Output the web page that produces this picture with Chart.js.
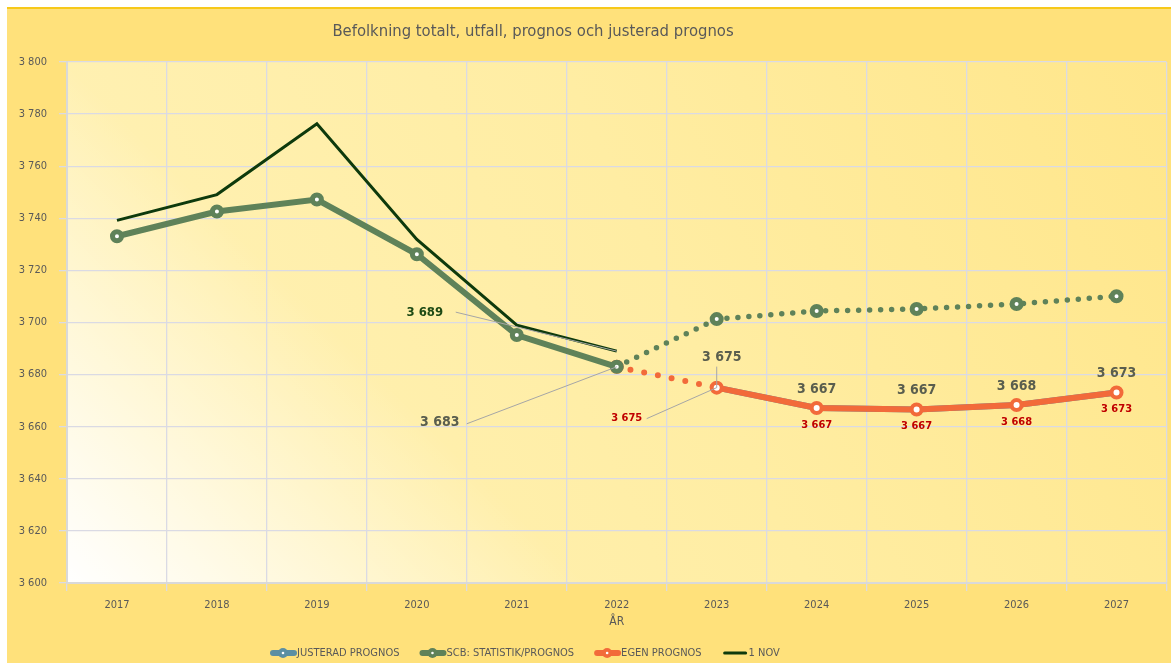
<!DOCTYPE html>
<html lang="sv">
<head>
  <meta charset="UTF-8">
  <title>Befolkning totalt, utfall, prognos och justerad prognos</title>
  <style>
    body {
      margin: 0;
      background: #fff;
      overflow: hidden;
    }
    #chart-container {
      width: 1176px;
      height: 663px;
      position: relative;
    }
  </style>
</head>
<body>
  <div id="chart-container">
    <canvas id="lineChart"></canvas>
  </div>

  <script src="https://cdn.jsdelivr.net/npm/chart.js"></script>
  <script>
    // data
    const years = ['2017', '2018', '2019', '2020', '2021', '2022', '2023', '2024', '2025', '2026', '2027'];
    const justerad = [null, null, null, null, null, null, 3675, 3667.2, 3666.6, 3668.3, 3673.1];
    const scb = [3733.1, 3742.6, 3747.2, 3726.2, 3695.2, 3683, 3701.3, 3704.4, 3705.2, 3707.1, 3710.1];
    const egen = [null, null, null, null, null, 3683, 3675, 3667.2, 3666.6, 3668.3, 3673.1];
    const nov1 = [3739.2, 3749.1, 3776.3, 3731.9, 3699.0, 3689, null, null, null, null, null];
    const yMin = 3600, yMax = 3800, yStep = 20;

    const FONT = "'Liberation Sans Narrow', 'DejaVu Sans Condensed', 'Roboto', sans-serif";
    const GREY = '#595959';

    const fmt = v => {
      const s = String(Math.round(v));
      return s.replace(/\B(?=(\d{3})+(?!\d))/g, ' ');
    };

    // backgrounds: yellow panel + gradient plot area (white in the lower left corner)
    const backgroundPlugin = {
      id: 'bg',
      beforeDraw(chart) {
        const { ctx, chartArea: a, width, height } = chart;
        ctx.save();
        ctx.fillStyle = '#ffffff';
        ctx.fillRect(0, 0, width, height);
        ctx.fillStyle = '#FFE17B';
        ctx.fillRect(7, 8, width - 7, height - 8);
        ctx.fillStyle = '#F7C91A';
        ctx.fillRect(7, 7, width - 7, 2);

        const g = ctx.createLinearGradient(a.left, a.bottom, a.right, a.top);
        g.addColorStop(0, '#FFF2B8');
        g.addColorStop(0.55, '#FFEDA3');
        g.addColorStop(1, '#FFE68A');
        ctx.fillStyle = g;
        ctx.fillRect(a.left, a.top, a.width, a.height);

        const r = ctx.createLinearGradient(a.left, a.bottom, a.left + 260, a.bottom - 260);
        r.addColorStop(0, 'rgba(255,255,255,1)');
        r.addColorStop(0.45, 'rgba(255,255,255,0.55)');
        r.addColorStop(1, 'rgba(255,255,255,0)');
        ctx.fillStyle = r;
        ctx.fillRect(a.left, a.top, a.width, a.height);
        ctx.restore();
      }
    };

    // data labels, a few with leader lines
    const labelSpecs = [
      { ds: 0, color: '#5A5E4E', font: 'bold 14px ' + FONT, dx: 0, dy: -19,
        special: { 6: { dx: 5, dy: -30, lx: 0, ly: -21 } } },
      { ds: 1, color: '#5A5E4E', font: 'bold 14px ' + FONT, only: [5],
        special: { 5: { dx: -177, dy: 56, lx: -150, ly: 57 } } },
      { ds: 2, color: '#C00000', font: 'bold 11px ' + FONT, dx: 0, dy: 17, skip: [5],
        special: { 6: { dx: -90, dy: 31, lx: -70, ly: 31 } } },
      { ds: 3, color: '#1E4A14', font: 'bold 13px ' + FONT, only: [5],
        special: { 5: { dx: -192, dy: -39, lx: -161, ly: -39 } } }
    ];

    const labelPlugin = {
      id: 'labels',
      afterDatasetsDraw(chart) {
        const { ctx } = chart;
        ctx.save();
        ctx.textAlign = 'center';
        ctx.textBaseline = 'middle';
        labelSpecs.forEach(spec => {
          const meta = chart.getDatasetMeta(spec.ds);
          const values = chart.data.datasets[spec.ds].data;
          meta.data.forEach((pt, i) => {
            if (values[i] == null) return;
            if (spec.only && !spec.only.includes(i)) return;
            if (spec.skip && spec.skip.includes(i)) return;
            const sp = (spec.special && spec.special[i]) || null;
            const dx = sp ? sp.dx : spec.dx;
            const dy = sp ? sp.dy : spec.dy;
            if (sp) {
              ctx.strokeStyle = '#A6A6A6';
              ctx.lineWidth = 1;
              ctx.beginPath();
              ctx.moveTo(pt.x + sp.lx, pt.y + sp.ly);
              ctx.lineTo(pt.x, pt.y);
              ctx.stroke();
            }
            ctx.font = spec.font;
            ctx.fillStyle = spec.color;
            ctx.fillText(fmt(values[i]), pt.x + dx, pt.y + dy);
          });
        });
        ctx.restore();
      }
    };

    // title, axis title and the legend
    const legendItems = [
      { text: 'JUSTERAD PROGNOS', color: '#5B8FA3', width: 6, marker: true },
      { text: 'SCB: STATISTIK/PROGNOS', color: '#5F8259', width: 6, marker: true },
      { text: 'EGEN PROGNOS', color: '#F26A3A', width: 6, marker: true },
      { text: '1 NOV', color: '#0E3A0C', width: 3, marker: false }
    ];

    const textPlugin = {
      id: 'texts',
      afterDraw(chart) {
        const { ctx, chartArea: a } = chart;
        ctx.save();
        ctx.fillStyle = GREY;
        ctx.textBaseline = 'middle';
        ctx.textAlign = 'center';
        ctx.font = '16.5px ' + FONT;
        ctx.fillText('Befolkning totalt, utfall, prognos och justerad prognos', 533, 32);
        ctx.font = '12px ' + FONT;
        ctx.fillText('ÅR', (a.left + a.right) / 2, 622);

        ctx.font = '11px ' + FONT;
        ctx.textAlign = 'left';
        let x = 270;
        const y = 653;
        legendItems.forEach(item => {
          ctx.strokeStyle = item.color;
          ctx.lineWidth = item.width;
          ctx.lineCap = 'round';
          ctx.beginPath();
          ctx.moveTo(x + 3, y);
          ctx.lineTo(x + 24, y);
          ctx.stroke();
          if (item.marker) {
            ctx.fillStyle = item.color;
            ctx.beginPath();
            ctx.arc(x + 13, y, 5, 0, Math.PI * 2);
            ctx.fill();
            ctx.fillStyle = '#ffffff';
            ctx.beginPath();
            ctx.arc(x + 13, y, 1.3, 0, Math.PI * 2);
            ctx.fill();
          }
          ctx.fillStyle = GREY;
          ctx.fillText(item.text, x + 27, y);
          x += 27 + ctx.measureText(item.text).width + 20;
        });
        ctx.restore();
      }
    };

    const lineCtx = document.getElementById('lineChart');
    new Chart(lineCtx, {
      type: 'line',
      data: {
        labels: years,
        datasets: [
          {
            label: 'JUSTERAD PROGNOS',
            data: justerad,
            borderColor: '#5B8FA3',
            backgroundColor: '#ffffff',
            borderWidth: 6,
            pointRadius: 4,
            pointBorderWidth: 4,
            order: 4
          },
          {
            label: 'SCB: STATISTIK/PROGNOS',
            data: scb,
            borderColor: '#5F8259',
            pointBorderColor: '#5F8259',
            pointBackgroundColor: '#ffffff',
            borderWidth: 6,
            borderCapStyle: 'round',
            pointRadius: 4.5,
            pointBorderWidth: 5,
            segment: {
              borderDash: c => c.p0DataIndex >= 5 ? [0, 11] : undefined,
              borderWidth: c => c.p0DataIndex >= 5 ? 5.5 : 6
            },
            order: 0
          },
          {
            label: 'EGEN PROGNOS',
            data: egen,
            borderColor: '#F26A3A',
            pointBorderColor: '#F26A3A',
            pointBackgroundColor: '#ffffff',
            borderWidth: 6,
            borderCapStyle: 'round',
            pointRadius: 5,
            pointBorderWidth: 4,
            segment: {
              borderDash: c => c.p0DataIndex === 5 ? [0, 14] : undefined
            },
            order: 2
          },
          {
            label: '1 NOV',
            data: nov1,
            borderColor: '#0E3A0C',
            borderWidth: 3,
            pointRadius: 0,
            order: 1
          }
        ]
      },
      options: {
        responsive: true,
        maintainAspectRatio: false,
        animation: false,
        layout: {
          padding: { left: 7, top: 62, right: 0, bottom: 0 }
        },
        plugins: {
          legend: { display: false },
          tooltip: { enabled: false }
        },
        scales: {
          y: {
            min: yMin,
            max: yMax,
            afterFit: s => { s.width = 60; },
            ticks: {
              stepSize: yStep,
              callback: v => fmt(v),
              color: GREY,
              padding: 12,
              font: { family: FONT, size: 11 }
            },
            grid: { color: '#DADAE4', lineWidth: 1.3 },
            border: { color: '#D9D9D9', width: 2 }
          },
          x: {
            offset: true,
            afterFit: s => {
              s.height = 80;
              s.paddingLeft = 0;
              s.paddingRight = 0;
            },
            ticks: {
              color: GREY,
              padding: 8,
              font: { family: FONT, size: 11 }
            },
            grid: { offset: true, color: '#DADAE4', lineWidth: 1.3 },
            border: { color: '#D9D9D9', width: 2 }
          }
        }
      },
      plugins: [backgroundPlugin, labelPlugin, textPlugin]
    });
  </script>
</body>
</html>
